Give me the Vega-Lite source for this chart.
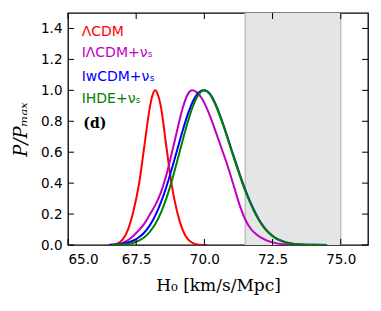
{
  "$schema": "https://vega.github.io/schema/vega-lite/v6.json",
  "width": 300,
  "height": 232,
  "autosize": {"type": "none"},
  "padding": {"left": 68, "top": 13, "right": 13, "bottom": 66},
  "background": "white",
  "config": {
    "view": {"stroke": "black", "strokeWidth": 1.3},
    "axis": {
      "domain": false,
      "grid": false,
      "labelFont": "DejaVu Sans",
      "labelFontSize": 13.5,
      "labelColor": "black",
      "titleColor": "black",
      "titleFontWeight": "normal"
    }
  },
  "datasets": {
    "curves": [
      {"model": "LCDM", "x": 66.5, "y": 0},
      {"model": "LCDM", "x": 66.8, "y": 0.008},
      {"model": "LCDM", "x": 67.0, "y": 0.035},
      {"model": "LCDM", "x": 67.2, "y": 0.1},
      {"model": "LCDM", "x": 67.4, "y": 0.22},
      {"model": "LCDM", "x": 67.6, "y": 0.39},
      {"model": "LCDM", "x": 67.8, "y": 0.64},
      {"model": "LCDM", "x": 68.0, "y": 0.89},
      {"model": "LCDM", "x": 68.1, "y": 0.97},
      {"model": "LCDM", "x": 68.2, "y": 1.0},
      {"model": "LCDM", "x": 68.3, "y": 0.97},
      {"model": "LCDM", "x": 68.4, "y": 0.9},
      {"model": "LCDM", "x": 68.6, "y": 0.645},
      {"model": "LCDM", "x": 68.8, "y": 0.39},
      {"model": "LCDM", "x": 69.0, "y": 0.215},
      {"model": "LCDM", "x": 69.2, "y": 0.1},
      {"model": "LCDM", "x": 69.4, "y": 0.036},
      {"model": "LCDM", "x": 69.6, "y": 0.01},
      {"model": "LCDM", "x": 69.8, "y": 0.002},
      {"model": "LCDM", "x": 70.1, "y": 0},
      {"model": "ILCDM", "x": 66.5, "y": 0},
      {"model": "ILCDM", "x": 66.8, "y": 0.005},
      {"model": "ILCDM", "x": 67.0, "y": 0.014},
      {"model": "ILCDM", "x": 67.2, "y": 0.032},
      {"model": "ILCDM", "x": 67.4, "y": 0.06},
      {"model": "ILCDM", "x": 67.6, "y": 0.096},
      {"model": "ILCDM", "x": 67.8, "y": 0.138},
      {"model": "ILCDM", "x": 68.0, "y": 0.197},
      {"model": "ILCDM", "x": 68.2, "y": 0.258},
      {"model": "ILCDM", "x": 68.4, "y": 0.337},
      {"model": "ILCDM", "x": 68.6, "y": 0.448},
      {"model": "ILCDM", "x": 68.8, "y": 0.59},
      {"model": "ILCDM", "x": 69.0, "y": 0.74},
      {"model": "ILCDM", "x": 69.2, "y": 0.882},
      {"model": "ILCDM", "x": 69.4, "y": 0.977},
      {"model": "ILCDM", "x": 69.55, "y": 1.0},
      {"model": "ILCDM", "x": 69.7, "y": 0.99},
      {"model": "ILCDM", "x": 69.9, "y": 0.95},
      {"model": "ILCDM", "x": 70.1, "y": 0.88},
      {"model": "ILCDM", "x": 70.3, "y": 0.79},
      {"model": "ILCDM", "x": 70.5, "y": 0.69},
      {"model": "ILCDM", "x": 70.7, "y": 0.59},
      {"model": "ILCDM", "x": 70.9, "y": 0.485},
      {"model": "ILCDM", "x": 71.1, "y": 0.37},
      {"model": "ILCDM", "x": 71.3, "y": 0.255},
      {"model": "ILCDM", "x": 71.5, "y": 0.165},
      {"model": "ILCDM", "x": 71.7, "y": 0.105},
      {"model": "ILCDM", "x": 71.9, "y": 0.07},
      {"model": "ILCDM", "x": 72.1, "y": 0.046},
      {"model": "ILCDM", "x": 72.3, "y": 0.028},
      {"model": "ILCDM", "x": 72.6, "y": 0.012},
      {"model": "ILCDM", "x": 72.9, "y": 0.005},
      {"model": "ILCDM", "x": 73.3, "y": 0.001},
      {"model": "ILCDM", "x": 73.6, "y": 0},
      {"model": "IwCDM", "x": 66.5, "y": 0},
      {"model": "IwCDM", "x": 66.8, "y": 0.003},
      {"model": "IwCDM", "x": 67.0, "y": 0.008},
      {"model": "IwCDM", "x": 67.2, "y": 0.016},
      {"model": "IwCDM", "x": 67.4, "y": 0.029},
      {"model": "IwCDM", "x": 67.6, "y": 0.05},
      {"model": "IwCDM", "x": 67.8, "y": 0.081},
      {"model": "IwCDM", "x": 68.0, "y": 0.127},
      {"model": "IwCDM", "x": 68.2, "y": 0.19},
      {"model": "IwCDM", "x": 68.4, "y": 0.272},
      {"model": "IwCDM", "x": 68.6, "y": 0.372},
      {"model": "IwCDM", "x": 68.8, "y": 0.488},
      {"model": "IwCDM", "x": 69.0, "y": 0.613},
      {"model": "IwCDM", "x": 69.2, "y": 0.737},
      {"model": "IwCDM", "x": 69.4, "y": 0.849},
      {"model": "IwCDM", "x": 69.6, "y": 0.936},
      {"model": "IwCDM", "x": 69.8, "y": 0.988},
      {"model": "IwCDM", "x": 69.97, "y": 1.0},
      {"model": "IwCDM", "x": 70.2, "y": 0.978},
      {"model": "IwCDM", "x": 70.4, "y": 0.915},
      {"model": "IwCDM", "x": 70.6, "y": 0.826},
      {"model": "IwCDM", "x": 70.8, "y": 0.724},
      {"model": "IwCDM", "x": 71.0, "y": 0.614},
      {"model": "IwCDM", "x": 71.2, "y": 0.508},
      {"model": "IwCDM", "x": 71.4, "y": 0.405},
      {"model": "IwCDM", "x": 71.6, "y": 0.313},
      {"model": "IwCDM", "x": 71.8, "y": 0.233},
      {"model": "IwCDM", "x": 72.0, "y": 0.165},
      {"model": "IwCDM", "x": 72.2, "y": 0.113},
      {"model": "IwCDM", "x": 72.4, "y": 0.075},
      {"model": "IwCDM", "x": 72.6, "y": 0.047},
      {"model": "IwCDM", "x": 72.8, "y": 0.029},
      {"model": "IwCDM", "x": 73.0, "y": 0.017},
      {"model": "IwCDM", "x": 73.3, "y": 0.007},
      {"model": "IwCDM", "x": 73.6, "y": 0.003},
      {"model": "IwCDM", "x": 74.0, "y": 0.001},
      {"model": "IwCDM", "x": 74.5, "y": 0},
      {"model": "IHDE", "x": 66.6, "y": 0},
      {"model": "IHDE", "x": 67.0, "y": 0.003},
      {"model": "IHDE", "x": 67.2, "y": 0.007},
      {"model": "IHDE", "x": 67.4, "y": 0.015},
      {"model": "IHDE", "x": 67.6, "y": 0.028},
      {"model": "IHDE", "x": 67.8, "y": 0.05},
      {"model": "IHDE", "x": 68.0, "y": 0.085},
      {"model": "IHDE", "x": 68.2, "y": 0.135},
      {"model": "IHDE", "x": 68.4, "y": 0.206},
      {"model": "IHDE", "x": 68.6, "y": 0.298},
      {"model": "IHDE", "x": 68.8, "y": 0.41},
      {"model": "IHDE", "x": 69.0, "y": 0.54},
      {"model": "IHDE", "x": 69.2, "y": 0.674},
      {"model": "IHDE", "x": 69.4, "y": 0.8},
      {"model": "IHDE", "x": 69.6, "y": 0.906},
      {"model": "IHDE", "x": 69.8, "y": 0.976},
      {"model": "IHDE", "x": 70.0, "y": 1.0},
      {"model": "IHDE", "x": 70.2, "y": 0.976},
      {"model": "IHDE", "x": 70.4, "y": 0.91},
      {"model": "IHDE", "x": 70.6, "y": 0.82},
      {"model": "IHDE", "x": 70.8, "y": 0.717},
      {"model": "IHDE", "x": 71.0, "y": 0.607},
      {"model": "IHDE", "x": 71.2, "y": 0.5},
      {"model": "IHDE", "x": 71.4, "y": 0.397},
      {"model": "IHDE", "x": 71.6, "y": 0.306},
      {"model": "IHDE", "x": 71.8, "y": 0.227},
      {"model": "IHDE", "x": 72.0, "y": 0.16},
      {"model": "IHDE", "x": 72.2, "y": 0.109},
      {"model": "IHDE", "x": 72.4, "y": 0.072},
      {"model": "IHDE", "x": 72.6, "y": 0.045},
      {"model": "IHDE", "x": 72.8, "y": 0.028},
      {"model": "IHDE", "x": 73.0, "y": 0.016},
      {"model": "IHDE", "x": 73.3, "y": 0.007},
      {"model": "IHDE", "x": 73.6, "y": 0.003},
      {"model": "IHDE", "x": 74.0, "y": 0.001},
      {"model": "IHDE", "x": 74.5, "y": 0}
    ],
    "band": [{"lo": 71.5, "hi": 75.0}],
    "edges": [{"h": 71.5}, {"h": 75.0}],
    "xticks": [{"t": 65}, {"t": 67.5}, {"t": 70}, {"t": 72.5}, {"t": 75}],
    "yticks": [{"t": 0}, {"t": 0.2}, {"t": 0.4}, {"t": 0.6}, {"t": 0.8}, {"t": 1.0}, {"t": 1.2}, {"t": 1.4}],
    "one": [{}]
  },
  "layer": [
    {
      "data": {"name": "band"},
      "mark": {"type": "rect", "color": "#e5e5e5"},
      "encoding": {
        "x": {"field": "lo", "type": "quantitative", "scale": {"domain": [65, 76], "nice": false, "zero": false},
          "axis": {"orient": "bottom", "values": [65, 67.5, 70, 72.5, 75], "format": ".1f", "ticks": false, "labelPadding": 7,
            "title": "H₀ [km/s/Mpc]", "titleFont": "DejaVu Serif", "titleFontSize": 17, "titlePadding": 12}},
        "x2": {"field": "hi"}
      }
    },
    {
      "data": {"name": "edges"},
      "mark": {"type": "rule", "color": "#bfbfbf", "strokeWidth": 1.5},
      "encoding": {
        "x": {"field": "h", "type": "quantitative", "axis": null}
      }
    },
    {
      "data": {"name": "curves"},
      "mark": {"type": "line", "interpolate": "monotone", "strokeWidth": 2, "clip": true},
      "encoding": {
        "x": {"field": "x", "type": "quantitative", "axis": null},
        "y": {"field": "y", "type": "quantitative", "scale": {"domain": [0, 1.5], "nice": false},
          "axis": {"orient": "left", "values": [0, 0.2, 0.4, 0.6, 0.8, 1.0, 1.2, 1.4], "format": ".1f", "ticks": false, "labelPadding": 6,
            "title": "P/Pₘₐₓ", "titleFont": "DejaVu Serif", "titleFontStyle": "italic", "titleFontSize": 18, "titlePadding": 10}},
        "color": {"field": "model", "type": "nominal", "legend": null,
          "scale": {"domain": ["LCDM", "ILCDM", "IwCDM", "IHDE"], "range": ["#ff0000", "#bf00bf", "#0000ff", "#008000"]}}
      }
    },
    {
      "data": {"name": "xticks"},
      "mark": {"type": "rule", "color": "black", "strokeWidth": 1},
      "encoding": {
        "x": {"field": "t", "type": "quantitative", "axis": null},
        "y": {"datum": 0, "axis": null},
        "y2": {"datum": 0.039}
      }
    },
    {
      "data": {"name": "xticks"},
      "mark": {"type": "rule", "color": "black", "strokeWidth": 1},
      "encoding": {
        "x": {"field": "t", "type": "quantitative", "axis": null},
        "y": {"datum": 1.5, "axis": null},
        "y2": {"datum": 1.461}
      }
    },
    {
      "data": {"name": "yticks"},
      "mark": {"type": "rule", "color": "black", "strokeWidth": 1},
      "encoding": {
        "y": {"field": "t", "type": "quantitative", "axis": null},
        "x": {"datum": 65, "axis": null},
        "x2": {"datum": 65.22}
      }
    },
    {
      "data": {"name": "yticks"},
      "mark": {"type": "rule", "color": "black", "strokeWidth": 1},
      "encoding": {
        "y": {"field": "t", "type": "quantitative", "axis": null},
        "x": {"datum": 76, "axis": null},
        "x2": {"datum": 75.78}
      }
    },
    {
      "data": {"name": "one"},
      "mark": {"type": "text", "align": "left", "baseline": "middle", "font": "DejaVu Sans", "fontSize": 14, "color": "#ff0000", "text": "ΛCDM"},
      "encoding": {"x": {"datum": 65.5, "axis": null}, "y": {"datum": 1.375, "axis": null}}
    },
    {
      "data": {"name": "one"},
      "mark": {"type": "text", "align": "left", "baseline": "middle", "font": "DejaVu Sans", "fontSize": 14, "color": "#bf00bf", "text": "IΛCDM+νₛ"},
      "encoding": {"x": {"datum": 65.5, "axis": null}, "y": {"datum": 1.24, "axis": null}}
    },
    {
      "data": {"name": "one"},
      "mark": {"type": "text", "align": "left", "baseline": "middle", "font": "DejaVu Sans", "fontSize": 14, "color": "#0000ff", "text": "IwCDM+νₛ"},
      "encoding": {"x": {"datum": 65.5, "axis": null}, "y": {"datum": 1.085, "axis": null}}
    },
    {
      "data": {"name": "one"},
      "mark": {"type": "text", "align": "left", "baseline": "middle", "font": "DejaVu Sans", "fontSize": 14, "color": "#008000", "text": "IHDE+νₛ"},
      "encoding": {"x": {"datum": 65.5, "axis": null}, "y": {"datum": 0.942, "axis": null}}
    },
    {
      "data": {"name": "one"},
      "mark": {"type": "text", "align": "left", "baseline": "middle", "font": "DejaVu Serif", "fontWeight": "bold", "fontSize": 14, "color": "black", "text": "(d)"},
      "encoding": {"x": {"datum": 65.56, "axis": null}, "y": {"datum": 0.785, "axis": null}}
    }
  ],
  "resolve": {"axis": {"x": "independent", "y": "independent"}}
}
